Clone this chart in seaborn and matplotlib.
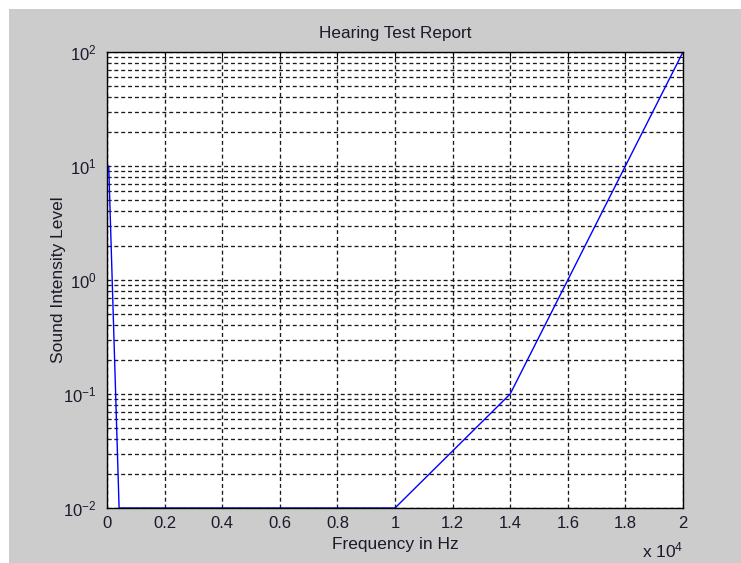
import matplotlib
matplotlib.use("Agg")
import matplotlib.pyplot as plt
import matplotlib.ticker as mticker
from matplotlib.patches import Rectangle
import pandas as pd
import seaborn as sns

freq_hz = [60, 420, 10000, 14000, 16000, 18000, 20000]
intensity = [10, 0.01, 0.01, 0.1, 1, 10, 100]
x_ticks = [0, 2000, 4000, 6000, 8000, 10000, 12000, 14000, 16000, 18000, 20000]
x_tick_labels = ["0", "0.2", "0.4", "0.6", "0.8", "1", "1.2", "1.4", "1.6", "1.8", "2"]
y_ticks = [0.01, 0.1, 1, 10, 100]
y_tick_labels = ["10$^{-2}$", "10$^{-1}$", "10$^{0}$", "10$^{1}$", "10$^{2}$"]

df = pd.DataFrame({"Frequency": freq_hz, "Level": intensity})

sns.set_style("white")
plt.rcParams["font.family"] = ["Liberation Sans", "DejaVu Sans"]
plt.rcParams["mathtext.fontset"] = "custom"
plt.rcParams["mathtext.rm"] = "Liberation Sans"
plt.rcParams["mathtext.it"] = "Liberation Sans"
plt.rcParams["axes.unicode_minus"] = False

fig = plt.figure(figsize=(7.41, 5.63), dpi=100)
fig.patch.set_facecolor("white")
# gray MATLAB-style figure window
fig.patches.append(Rectangle((9 / 741, 0), 1, 1 - 9 / 563, transform=fig.transFigure,
                             facecolor="#cccccc", edgecolor="none", zorder=-10))
ax = fig.add_axes([0.1444, 0.0977, 0.7773, 0.8099])
ax.set_facecolor("white")

sns.lineplot(data=df, x="Frequency", y="Level", ax=ax, color="blue",
             linewidth=1.0, estimator=None, sort=False)

ax.set_yscale("log")
ax.set_xlim(0, 20000)
ax.set_ylim(0.01, 100)

ax.set_xticks(x_ticks)
ax.set_xticklabels(x_tick_labels)
ax.set_yticks(y_ticks)
ax.set_yticklabels(y_tick_labels)
ax.yaxis.set_minor_locator(mticker.LogLocator(base=10, subs=range(2, 10), numticks=20))
ax.yaxis.set_minor_formatter(mticker.NullFormatter())

grid_kw = dict(color="#1a1a1a", linestyle=(0, (3, 2.2)), linewidth=0.95)
ax.grid(True, which="major", axis="both", **grid_kw)
ax.grid(True, which="minor", axis="y", **grid_kw)

ax.tick_params(which="major", direction="in", length=5, width=0.7, top=True, right=True,
               labelsize=12, colors="black", labelcolor="#1a1a2a")
ax.tick_params(axis="x", pad=6)
ax.tick_params(axis="y", pad=7.5)
ax.tick_params(which="minor", direction="in", length=3, width=0.7, right=True, left=True)

for s in ax.spines.values():
    s.set_color("black")
    s.set_linewidth(1.0)

ax.set_title("Hearing Test Report", fontsize=12.3, pad=10, color="#1a1a2a")
ax.set_xlabel("Frequency in Hz", fontsize=12.5, labelpad=4, color="#1a1a2a")
ax.set_ylabel("Sound Intensity Level", fontsize=12.5, color="#1a1a2a")
ax.yaxis.set_label_coords(-0.072, 0.5)
ax.text(1.0, -0.108, "x 10$^{4}$", transform=ax.transAxes, ha="right", va="baseline",
        fontsize=12.5, color="#1a1a2a")

fig.savefig("out.png", dpi=100, facecolor=fig.get_facecolor())
